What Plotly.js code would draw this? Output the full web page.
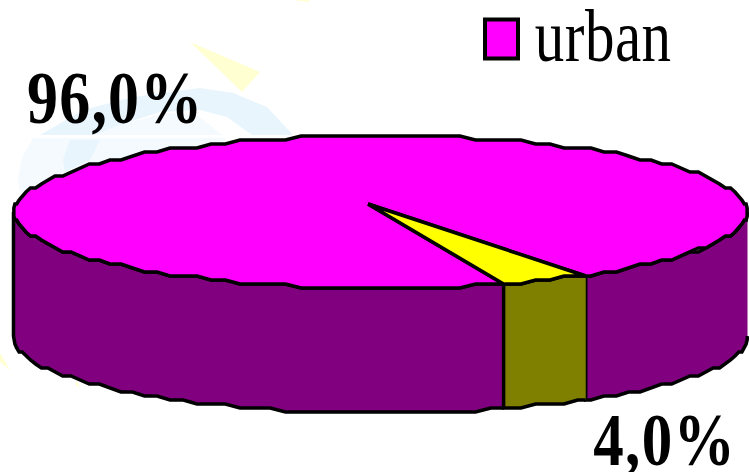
<!DOCTYPE html>
<html>
<head>
<meta charset="utf-8">
<script src="https://cdn.plot.ly/plotly-3.0.1.min.js"></script>
<style>html,body{margin:0;padding:0;background:#fff;overflow:hidden}#chart{width:749px;height:472px}</style>
</head>
<body>
<div id="chart"></div>
<script>
// Data
var shareValues = [96.0, 4.0];
var shareLabels = ['96,0%', '4,0%'];
var legendLabels = ['urban'];

// Pie projection
var cx = 380.5, cy = 212, rx = 367, ry = 76, depth = 125;
var apex = [368, 204];
var firstAngle = 56;           // where the small slice ends, degrees clockwise from the right
var stepY = 4;                 // the reference's outline is a stepped, low-resolution polyline
var stepAngle = 2.5;

function rim(t, drop) {
  var a = t * Math.PI / 180;
  return [cx + rx * Math.cos(a), Math.round((cy + ry * Math.sin(a) + drop) / stepY) * stepY];
}
// Rim samples sit on one shared angular grid, so every part traces the same outline
function arc(from, to, drop) {
  var lo = Math.min(from, to), hi = Math.max(from, to), ts = [lo];
  for (var k = Math.floor(lo / stepAngle) + 1; k * stepAngle < hi; k++) ts.push(k * stepAngle);
  ts.push(hi);
  if (from > to) ts.reverse();
  return ts.map(function (t) { return rim(t, drop); });
}
function poly(pts, fill, name) {
  return {
    type: 'scatter', mode: 'lines', name: name, showlegend: false, hoverinfo: 'skip',
    x: pts.map(function (p) { return p[0]; }), y: pts.map(function (p) { return p[1]; }),
    fill: 'toself', fillcolor: fill, line: { color: '#000', width: 3.5, shape: 'linear' }
  };
}

var total = shareValues[0] + shareValues[1];
var smallSweep = 360 * shareValues[1] / total;
var tA = firstAngle, tB = firstAngle + smallSweep;

var traces = [
  poly(arc(tB, 180, 0).concat(arc(180, tB, depth)), '#800080', 'urban side left'),
  poly(arc(0, tA, 0).concat(arc(tA, 0, depth)), '#800080', 'urban side right'),
  poly(arc(tA, tB, 0).concat(arc(tB, tA, depth)), '#808000', 'other side'),
  poly([apex].concat(arc(tB, tA + 360, 0)).concat([apex]), '#ff00ff', 'urban top'),
  poly([apex].concat(arc(tA, tB, 0)).concat([apex]), '#ffff00', 'other top')
];

function path(pts) { return 'M' + pts.map(function (p) { return p.join(','); }).join('L') + 'Z'; }
function bg(pts, color) {
  return { type: 'path', layer: 'below', xref: 'x', yref: 'y', path: path(pts), fillcolor: color, line: { width: 0 } };
}
var shapes = [
  bg([[18,178],[22,158],[33,138],[225,138],[225,165],[20,195]], '#f4fafe'),
  bg([[63,160],[70,140],[100,140],[90,160],[65,172]], '#e8f5fd'),
  bg([[40,135],[83,110],[133,97],[200,88],[233,93],[267,107],[293,135],[252,135],[227,117],[200,110],[160,112],[120,125],[95,135]], '#e8f5fd'),
  bg([[95,135],[120,125],[165,113],[197,115],[222,135]], '#f4fafe'),
  bg([[190,42],[260,72],[242,92]], '#ffffd2'),
  bg([[293,0],[309,0],[309,2]], '#ffffd2'),
  bg([[0,353],[10,370],[0,362]], '#ffffd2'),
  bg([[77,381],[80,388],[75,384]], '#ffffd2'),
  { type: 'rect', xref: 'x', yref: 'y', x0: 485, x1: 518, y0: 19.5, y1: 58.5, fillcolor: '#ff00ff', line: { color: '#000', width: 4 } }
];

function note(text, x, y, size, bold) {
  return {
    text: bold ? '<b>' + text + '</b>' : text, xref: 'x', yref: 'y', x: x, y: y,
    xanchor: 'center', yanchor: 'middle', showarrow: false,
    font: { family: 'Liberation Serif', size: size, color: '#000' }
  };
}
var annotations = [
  note(shareLabels[0], 115, 98, 62, true),
  note(shareLabels[1], 664.5, 440, 61, true),
  note(legendLabels[0], 602.5, 36, 59, false)
];

var layout = {
  width: 749, height: 472, margin: { l: 0, r: 0, t: 0, b: 0 },
  paper_bgcolor: '#fff', plot_bgcolor: '#fff', showlegend: false,
  xaxis: { range: [0, 749], visible: false, fixedrange: true },
  yaxis: { range: [472, 0], visible: false, fixedrange: true },
  shapes: shapes, annotations: annotations
};

Plotly.newPlot('chart', traces, layout, { displayModeBar: false, staticPlot: true }).then(function () {
  // The reference's lettering is stretched vertically and slightly spaced
  var stretch = [1.2, 1.2, 1.27], spacing = ['1.2px', '1.4px', '0.5px'];
  document.querySelectorAll('#chart .annotation-text').forEach(function (el, i) {
    el.style.letterSpacing = spacing[i];
    var b = el.getBBox(), mx = b.x + b.width / 2, my = b.y + b.height / 2;
    el.setAttribute('transform', 'translate(' + mx + ',' + my + ') scale(1,' + stretch[i] + ') translate(' + (-mx) + ',' + (-my) + ')');
  });
});
</script>
</body>
</html>
